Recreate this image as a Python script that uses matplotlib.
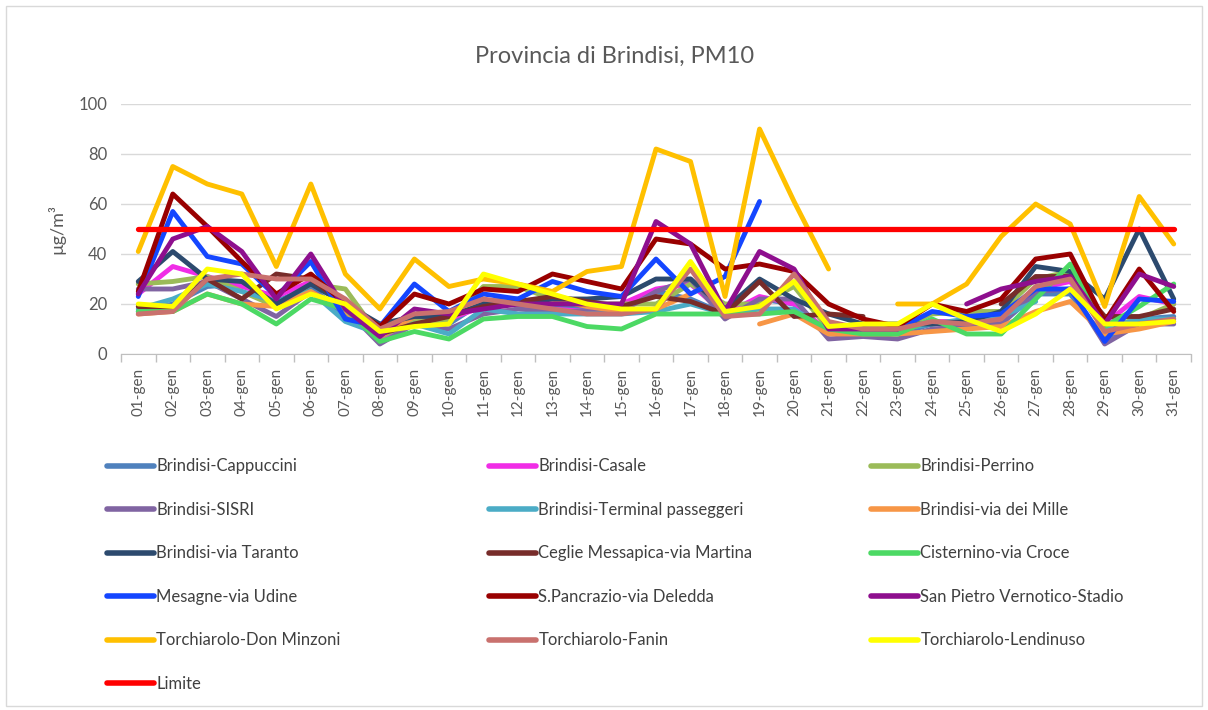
import numpy as np
import matplotlib
matplotlib.use("Agg")
import matplotlib.pyplot as plt
from matplotlib.patches import Rectangle

plt.rcParams['font.family'] = ['Lato', 'DejaVu Sans']

days = ["01-gen", "02-gen", "03-gen", "04-gen", "05-gen", "06-gen", "07-gen", "08-gen",
        "09-gen", "10-gen", "11-gen", "12-gen", "13-gen", "14-gen", "15-gen", "16-gen",
        "17-gen", "18-gen", "19-gen", "20-gen", "21-gen", "22-gen", "23-gen", "24-gen",
        "25-gen", "26-gen", "27-gen", "28-gen", "29-gen", "30-gen", "31-gen"]

cappuccini = [17, 20, 27, 28, 21, 27, 15, 8, 15, 12, 21, 22, 19, 18, 18, 25, 22, 16, 22, 20, 8, 9, 8, 12, 13, 12, 24, 24, 6, 14, 15]
casale = [24, 35, 31, 27, 23, 29, 20, 6, 14, 14, 19, 20, 18, 17, 20, 26, 28, 16, 23, 20, 9, 10, 9, 13, 13, 14, 26, 29, 12, 23, 20]
perrino = [28, 29, 31, 25, 19, 28, 26, 7, 13, 13, 27, 27, 22, 20, 20, 20, 28, 20, 20, 27, 10, 10, 10, 16, 17, 17, 30, 33, 11, 14, 20]
sisri = [26, 26, 29, 22, 15, 25, 18, 4, 12, 10, 16, 18, 17, 17, 17, 25, 30, 14, 22, 22, 6, 7, 6, 10, 11, 12, 25, 26, 4, 12, 12]
terminal = [18, 22, 28, 25, 21, 25, 13, 8, 12, 8, 18, 16, 16, 16, 16, 17, 20, 16, 18, 18, 9, 9, 10, 12, 14, 15, 21, None, 10, 14, 14]
mille = [16, 17, 24, 20, 19, 25, 17, 7, 15, 15, 20, 21, 22, 19, 17, 18, 24, None, 12, 16, 8, 8, 8, 9, 10, 11, 17, 21, 8, 10, 13]
taranto = [29, 41, 30, 29, 20, 28, 20, 12, 15, 15, 20, 20, 22, 22, 23, 30, 30, 18, 30, 22, 16, 12, 12, 12, 13, 17, 35, 33, 22, 50, 22]
ceglie = [19, 18, 30, 22, 32, 30, 20, 8, 12, 15, 19, 21, 23, 21, 19, 23, 21, 16, 29, 15, 16, 15, None, None, None, 20, 31, 31, 15, 15, 18]
cisternino = [17, 17, 24, 20, 12, 22, 18, 5, 9, 6, 14, 15, 15, 11, 10, 16, 16, 16, 16, 17, 10, 8, 8, 14, 8, 8, 22, 36, 11, 19, 28]
mesagne = [23, 57, 39, 36, 23, 37, 14, 11, 28, 17, 24, 22, 29, 25, 23, 38, 24, 31, 61, None, None, None, 10, 17, 15, 16, 26, 26, 5, 22, 21]
spancrazio = [25, 64, 51, 37, 24, 32, 20, 11, 24, 20, 26, 25, 32, 29, 26, 46, 44, 34, 36, 33, 20, 14, 11, 20, 17, 22, 38, 40, 13, 34, 17]
sanpietro = [24, 46, 51, 41, 22, 40, 18, 7, 18, 16, 18, 20, 20, 20, 20, 53, 44, 17, 41, 34, 10, 10, 10, None, 20, 26, 29, 31, 12, 32, 27]
donminzoni = [41, 75, 68, 64, 35, 68, 32, 18, 38, 27, 30, 28, 25, 33, 35, 82, 77, 23, 90, 61, 34, None, 20, 20, 28, 47, 60, 52, 19, 63, 44]
fanin = [16, 17, 30, 32, 30, 30, 22, 10, 16, 17, 22, 20, 18, 16, 16, 18, 34, 15, 16, 32, 13, 10, 10, 13, 12, 14, 27, 30, 9, 12, 14]
lendinuso = [20, 19, 34, 32, 18, 24, 20, 9, 11, 12, 32, 28, 24, 20, 18, 18, 37, 17, 19, 29, 11, 12, 12, 20, 14, 9, 16, 26, 12, 12, 13]
limite = [50, 50, 50, 50, 50, 50, 50, 50, 50, 50, 50, 50, 50, 50, 50, 50,
          50, 50, 50, 50, 50, 50, 50, 50, 50, 50, 50, 50, 50, 50, 50]

series_names = ["Brindisi-Cappuccini", "Brindisi-Casale", "Brindisi-Perrino",
                "Brindisi-SISRI", "Brindisi-Terminal passeggeri", "Brindisi-via dei Mille",
                "Brindisi-via Taranto", "Ceglie Messapica-via Martina", "Cisternino-via Croce",
                "Mesagne-via Udine", "S.Pancrazio-via Deledda", "San Pietro Vernotico-Stadio",
                "Torchiarolo-Don Minzoni", "Torchiarolo-Fanin", "Torchiarolo-Lendinuso", "Limite"]
series_values = [cappuccini, casale, perrino, sisri, terminal, mille, taranto, ceglie,
                 cisternino, mesagne, spancrazio, sanpietro, donminzoni, fanin, lendinuso, limite]
colors = ["#4F81BD", "#F02DE6", "#9BBB59", "#8064A2", "#4BACC6", "#F79646",
          "#2C4A6E", "#772C2A", "#4CD964", "#1446FF", "#990000", "#8E0F8E",
          "#FFC000", "#C9716E", "#FFFF00", "#FF0000"]

fig = plt.figure(figsize=(12.08, 7.10), dpi=100)
ax = fig.add_axes([121 / 1208, 1 - 354 / 710, (1191 - 121) / 1208, 250 / 710])

x = np.arange(len(days))
handles = []
for name, vals, c in zip(series_names, series_values, colors):
    y = np.array([np.nan if v is None else v for v in vals], dtype=float)
    lw = 3.8 if name == "Limite" else 3.5
    h, = ax.plot(x, y, color=c, lw=lw, label=name, solid_capstyle='round',
                 solid_joinstyle='round')
    handles.append(h)

ax.set_xlim(-0.5, len(days) - 0.5)
ax.set_ylim(0, 100)
ax.set_yticks([0, 20, 40, 60, 80, 100])
ax.grid(axis='y', color='#D9D9D9', lw=1.0)
ax.set_axisbelow(True)
for s in ['top', 'right', 'left']:
    ax.spines[s].set_visible(False)
ax.spines['bottom'].set_color('#BFBFBF')
ax.tick_params(axis='y', length=0, labelsize=12, colors='#595959', pad=10)
ax.set_xticks(x)
ax.set_xticklabels(days, rotation=90)
ax.tick_params(axis='x', which='major', length=0, labelsize=11, colors='#595959', pad=10)
ax.set_xticks(np.arange(-0.5, len(days), 1.0), minor=True)
ax.tick_params(axis='x', which='minor', length=6, color='#BFBFBF', width=1)
ax.set_ylabel("µg/m³", fontsize=13, color='#595959', labelpad=9)

fig.text(615 / 1208, 1 - 56 / 710, "Provincia di Brindisi, PM10", ha='center', va='center',
         fontsize=17, color='#595959')

# legend in three columns (row-major order like the original)
col_x = [104 / 1208, 486 / 1208, 868 / 1208]
for ci in range(3):
    hs = handles[ci::3]
    leg = fig.legend(handles=hs, labels=[h.get_label() for h in hs],
                     loc='upper left', bbox_to_anchor=(col_x[ci], 1 - 455 / 710),
                     frameon=False, fontsize=12, handlelength=2.8, handletextpad=0.15,
                     labelspacing=1.65, labelcolor='#404040', borderaxespad=0, borderpad=0.2)
    for lh in leg.get_lines():
        lh.set_linewidth(4)

fig.patches.append(Rectangle((6 / 1208, 4 / 710), 1196 / 1208, 700 / 710, transform=fig.transFigure,
                             fill=False, edgecolor='#D9D9D9', lw=1))

fig.savefig("out.png", dpi=100)
